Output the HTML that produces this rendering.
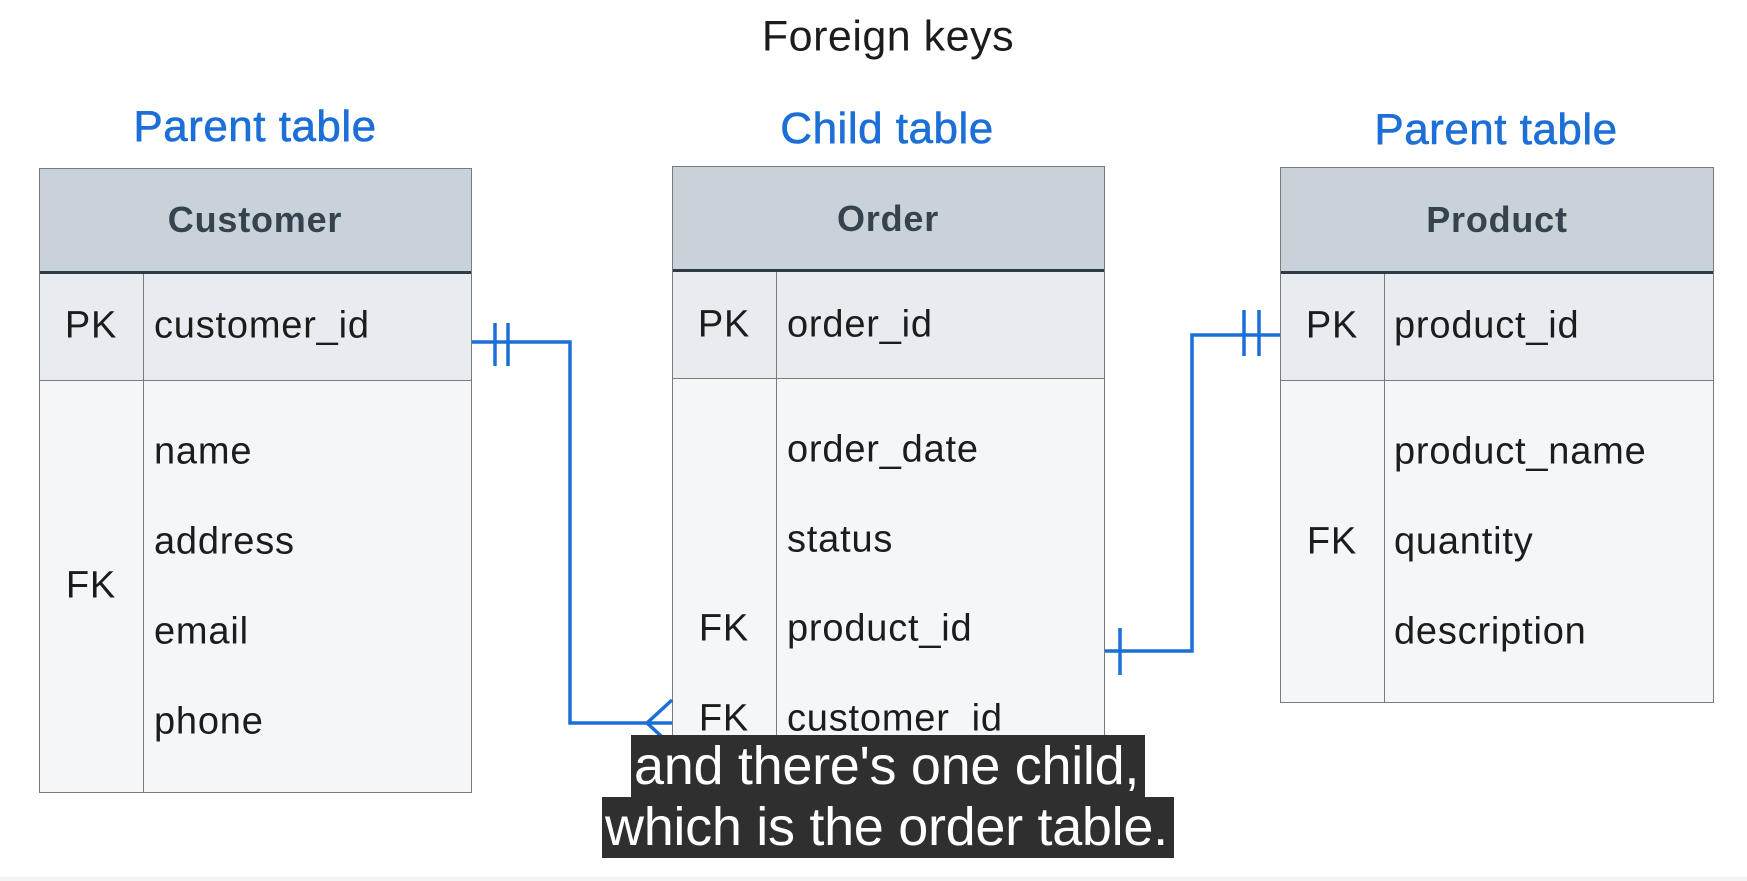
<!DOCTYPE html>
<html><head><meta charset="utf-8"><style>
body{margin:0;width:1747px;height:881px;background:#fff;position:relative;overflow:hidden;font-family:"Liberation Sans","DejaVu Sans",sans-serif}
.a{position:absolute}
.t{position:absolute;white-space:nowrap;transform:translate(-50%,-50%)}
.l{position:absolute;white-space:nowrap;transform:translateY(-50%);font-size:38px;letter-spacing:0.8px;color:#1c1c1c}
.k{font-size:38px;letter-spacing:0.8px;color:#1c1c1c}
.box{position:absolute;border:1.5px solid #7a7a7a;box-sizing:border-box;background:#f4f6f8}
.hd{position:absolute;left:0;right:0;top:0;background:#c9d1d9;border-bottom:3px solid #2f3a44}
.pk{position:absolute;left:0;right:0;background:#e8ebef;border-bottom:1.5px solid #7a7a7a}
.dv{position:absolute;top:0;bottom:0;border-left:1.5px solid #7a7a7a}
.blue{color:#1b6fd6;font-size:44px;letter-spacing:0.5px;-webkit-text-stroke:0.6px #1b6fd6}
.h{font-size:36px;font-weight:bold;letter-spacing:0.8px;color:#36424c}
.sub{position:absolute;background:#2f2f2f;color:#fff;font-size:54px;white-space:nowrap;line-height:1;padding:0 3px;letter-spacing:-0.3px}
</style></head><body>
<div class="t" style="left:888px;top:37px;font-size:43px;color:#1c1c1c;letter-spacing:0.5px">Foreign keys</div>
<div class="t blue" style="left:255px;top:127px">Parent table</div>
<div class="t blue" style="left:887px;top:129px">Child table</div>
<div class="t blue" style="left:1496px;top:130px">Parent table</div>

<!-- Customer -->
<div class="box" style="left:39px;top:168px;width:433px;height:625px">
<div class="hd" style="height:102px"></div>
<div class="pk" style="top:105px;height:106px"></div>
<div class="dv" style="left:103px;top:105px"></div>
</div>
<div class="t h" style="left:255px;top:220px">Customer</div>
<div class="t k" style="left:91px;top:326px">PK</div>
<div class="l" style="left:154px;top:326px">customer_id</div>
<div class="l" style="left:154px;top:452px">name</div>
<div class="l" style="left:154px;top:542px">address</div>
<div class="l" style="left:154px;top:632px">email</div>
<div class="l" style="left:154px;top:722px">phone</div>
<div class="t k" style="left:91px;top:586px">FK</div>

<!-- Order -->
<div class="box" style="left:672px;top:166px;width:433px;height:690px">
<div class="hd" style="height:102px"></div>
<div class="pk" style="top:105px;height:106px"></div>
<div class="dv" style="left:103px;top:105px"></div>
</div>
<div class="t h" style="left:888px;top:219px">Order</div>
<div class="t k" style="left:724px;top:325px">PK</div>
<div class="l" style="left:787px;top:325px">order_id</div>
<div class="l" style="left:787px;top:450px">order_date</div>
<div class="l" style="left:787px;top:540px">status</div>
<div class="t k" style="left:724px;top:629px">FK</div>
<div class="l" style="left:787px;top:629px">product_id</div>
<div class="t k" style="left:724px;top:719px">FK</div>
<div class="l" style="left:787px;top:719px">customer_id</div>

<!-- Product -->
<div class="box" style="left:1280px;top:167px;width:434px;height:536px">
<div class="hd" style="height:103px"></div>
<div class="pk" style="top:106px;height:106px"></div>
<div class="dv" style="left:103px;top:106px"></div>
</div>
<div class="t h" style="left:1497px;top:220px">Product</div>
<div class="t k" style="left:1332px;top:326px">PK</div>
<div class="l" style="left:1394px;top:326px">product_id</div>
<div class="l" style="left:1394px;top:452px">product_name</div>
<div class="t k" style="left:1332px;top:542px">FK</div>
<div class="l" style="left:1394px;top:542px">quantity</div>
<div class="l" style="left:1394px;top:632px">description</div>

<svg class="a" style="left:0;top:0" width="1747" height="881">
<g stroke="#1b6fd6" stroke-width="3.5" fill="none">
<polyline points="472,342 570,342 570,723 672,723"/>
<line x1="495" y1="323" x2="495" y2="366"/><line x1="508" y1="323" x2="508" y2="366"/>
<polyline points="672,700 647,723 672,746"/>
<polyline points="1105,651 1192,651 1192,335 1280,335"/>
<line x1="1244" y1="310" x2="1244" y2="356"/><line x1="1259" y1="310" x2="1259" y2="356"/>
<line x1="1120" y1="628" x2="1120" y2="675"/>
</g></svg>

<div class="sub" style="left:631px;top:735px;height:62px;width:508px;line-height:62px">and there's one child,</div>
<div class="sub" style="left:602px;top:797px;height:61px;width:566px;line-height:61px">which is the order table.</div>
<div class="a" style="left:0;top:877px;width:1747px;height:4px;background:#f3f3f3"></div>
</body></html>
